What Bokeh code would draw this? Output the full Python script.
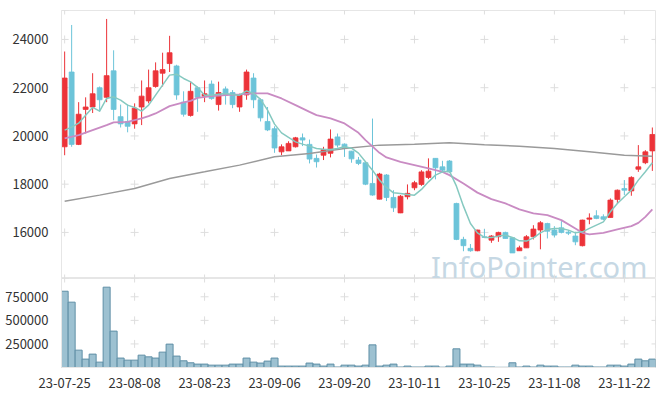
from bokeh.plotting import figure
from bokeh.layouts import column
from bokeh.models import FixedTicker, Range1d, ColumnDataSource, BasicTickFormatter, Label
from bokeh.embed import file_html
from bokeh.resources import INLINE

dates = [
    "23-07-25", "23-07-26", "23-07-27", "23-07-28", "23-07-31",
    "23-08-01", "23-08-02", "23-08-03", "23-08-04", "23-08-07", "23-08-08", "23-08-09", "23-08-10",
    "23-08-11", "23-08-14", "23-08-16", "23-08-17", "23-08-18", "23-08-21", "23-08-22", "23-08-23",
    "23-08-24", "23-08-25", "23-08-28", "23-08-29", "23-08-30", "23-08-31",
    "23-09-01", "23-09-04", "23-09-05", "23-09-06", "23-09-07", "23-09-08", "23-09-11", "23-09-12",
    "23-09-13", "23-09-14", "23-09-15", "23-09-18", "23-09-19", "23-09-20", "23-09-21", "23-09-22",
    "23-09-25", "23-09-26", "23-09-27",
    "23-10-04", "23-10-05", "23-10-06", "23-10-10", "23-10-11", "23-10-12", "23-10-13", "23-10-16",
    "23-10-17", "23-10-18", "23-10-19", "23-10-20", "23-10-23", "23-10-24", "23-10-25", "23-10-26",
    "23-10-27", "23-10-30", "23-10-31",
    "23-11-01", "23-11-02", "23-11-03", "23-11-06", "23-11-07", "23-11-08", "23-11-09", "23-11-10",
    "23-11-13", "23-11-14", "23-11-15", "23-11-16", "23-11-17", "23-11-20", "23-11-21", "23-11-22",
    "23-11-23", "23-11-24", "23-11-27", "23-11-28",
]

opens = [19550, 22650, 19650, 21100, 21200, 22000, 21600, 22700, 20800, 20600,
         20500, 21200, 21450, 22050, 22600, 23000, 22900, 21400, 20850, 22000,
         21650, 22150, 21300, 21950, 21800, 21200, 21700, 22400, 21500, 20600,
         20300, 19340, 19380, 19550, 19920, 19650, 19070, 19200, 19280, 19960,
         19660, 19370, 19000, 18890, 18030, 17380, 18380, 17450, 16810, 17480,
         17850, 17990, 18280, 19070, 18720, 18960, 17200, 15710, 15340, 15240,
         15820, 15680, 15820, 16000, 15780, 15240, 15360, 15820, 16100, 16370,
         16100, 16190, 16010, 15850, 15450, 16550, 16690, 16650, 16620, 17370,
         17820, 17720, 18620, 18890, 19380]
highs = [23500, 24600, 21400, 21600, 22600, 22050, 24850, 23550, 21300, 21300,
         21350, 22300, 22750, 23050, 23450, 24150, 22950, 21850, 22250, 22050,
         22300, 22300, 22250, 22050, 21900, 21750, 22750, 22600, 21550, 21200,
         20400, 19650, 19780, 19960, 20100, 19850, 19230, 19550, 20270, 20100,
         19690, 19380, 19130, 18950, 20720, 18470, 18420, 17750, 17550, 17990,
         18130, 18580, 19070, 19070, 18970, 19000, 17230, 15820, 15520, 16110,
         16140, 15890, 16030, 16030, 15780, 15450, 15890, 16300, 16470, 16400,
         16260, 16470, 16100, 16030, 16530, 16790, 16920, 16750, 17410, 17780,
         18170, 18330, 19620, 19410, 20350]
lows = [19200, 19550, 19620, 20100, 20950, 21000, 21400, 20650, 20350, 20150,
        20300, 20450, 21350, 22000, 22050, 22650, 21500, 20800, 20800, 21000,
        21400, 21500, 21050, 21300, 21150, 21000, 21500, 21150, 20600, 20200,
        19300, 19200, 19380, 19520, 19580, 18860, 18690, 19000, 19110, 19520,
        19130, 18890, 18790, 17960, 17520, 17370, 17300, 16850, 16800, 17370,
        17750, 17930, 18210, 18200, 18470, 18470, 15680, 15220, 15200, 15220,
        15790, 15570, 15610, 15750, 15150, 15240, 15360, 15710, 15300, 15750,
        15790, 15960, 15890, 15470, 15420, 16340, 16550, 16510, 16620, 17200,
        17550, 17520, 18510, 18830, 18550]
closes = [22400, 19650, 20900, 21200, 21750, 21500, 22500, 21100, 20500, 20400,
          21150, 21650, 22000, 22700, 22750, 23450, 21700, 20900, 21850, 21600,
          21750, 21550, 21800, 21700, 21300, 21700, 22650, 21500, 20750, 20250,
          19500, 19550, 19690, 19920, 19830, 19040, 18930, 19440, 19870, 19620,
          19510, 19050, 18860, 18000, 17550, 18420, 17450, 17020, 17500, 17620,
          18060, 18510, 18540, 18680, 18580, 18510, 15710, 15450, 15240, 16100,
          15790, 15850, 16000, 15750, 15150, 15360, 15820, 16140, 16400, 16050,
          15890, 16000, 15970, 15610, 16510, 16600, 16580, 16550, 17340, 17750,
          17750, 18280, 18720, 19340, 20060]
volumes = [809000, 693000, 184000, 89000, 142000, 57000, 852000, 386000, 100000, 78000,
           78000, 131000, 113000, 100000, 163000, 248000, 121000, 71000, 50000, 36000,
           36000, 25000, 25000, 25000, 36000, 36000, 100000, 57000, 47000, 68000,
           100000, 15000, 15000, 15000, 15000, 47000, 36000, 15000, 36000, 5000,
           25000, 25000, 15000, 25000, 240000, 15000, 25000, 36000, 5000, 15000,
           5000, 5000, 15000, 15000, 3000, 15000, 198000, 36000, 36000, 25000,
           5000, 5000, 2000, 2000, 50000, 5000, 15000, 5000, 25000, 15000,
           15000, 5000, 5000, 25000, 15000, 15000, 5000, 5000, 25000, 25000,
           15000, 36000, 89000, 71000, 89000]

ma5 = [20240, 20364, 20530, 20862, 21181, 21028, 21554, 21621, 21484, 21277,
       21181, 21028, 21277, 21691, 22106, 22521, 22562, 22383, 22242, 22010,
       21691, 21691, 21733, 21762, 21720, 21691, 21869, 21762, 21513, 21069,
       20489, 20128, 19938, 19755, 19660, 19577, 19482, 19453, 19440, 19482,
       19548, 19494, 19287, 18926, 18582, 18168, 17865, 17641, 17617, 17575,
       17546, 17782, 18097, 18375, 18512, 18541, 17919, 17090, 16373, 15983,
       15793, 15793, 15847, 15888, 15793, 15652, 15640, 15776, 15983, 16124,
       16166, 16166, 16095, 15983, 16025, 16166, 16303, 16439, 16854, 17202,
       17476, 17753, 18168, 18512, 18885]
ma20_idx = [0, 2, 4, 6, 7, 9, 11, 12, 13, 15, 17, 18, 19, 21, 23, 25, 27, 29, 31, 33,
            35, 36, 38, 40, 42, 43, 45, 46, 48, 50, 52, 54, 55, 57, 59, 61, 63, 65, 67, 69,
            71, 73, 74, 75, 77, 79, 81, 82, 83, 84]
ma20 = [19896, 20033, 20240, 20448, 20560, 20584, 20725, 20821, 20933, 21235,
        21389, 21455, 21579, 21650, 21691, 21720, 21762, 21762, 21554, 21277,
        20999, 20862, 20725, 20518, 20128, 19826, 19300, 19109, 18926, 18790,
        18653, 18512, 18375, 18031, 17650, 17380, 17202, 16953, 16788, 16717,
        16510, 16166, 15983, 15917, 15983, 16124, 16261, 16398, 16647, 16953]
ma120_idx = [0, 5, 10, 15, 20, 25, 30, 35, 40, 45, 50, 55, 60, 65, 70, 75, 80, 84]
ma120 = [17297, 17546, 17824, 18238, 18512, 18790, 19134, 19275, 19482, 19619,
         19660, 19714, 19639, 19577, 19482, 19341, 19204, 19163]

price_ticks = [16000, 18000, 20000, 22000, 24000]
volume_ticks = [250000, 500000, 750000]
x_ticks = [0, 10, 20, 30, 40, 50, 60, 70, 80]

UP = "#ec3339"
DOWN = "#6cc4d9"
FONT = "Noto Sans CJK KR"
GRIDC = "#dedede"

n = len(dates)
idx = list(range(n))
colors = [UP if c >= o else DOWN for o, c in zip(opens, closes)]
src = ColumnDataSource(dict(
    x=idx, top=[max(o, c) for o, c in zip(opens, closes)],
    bottom=[min(o, c) for o, c in zip(opens, closes)],
    high=highs, low=lows, color=colors, vol=volumes,
))

x_range = Range1d(-0.45, n - 1 + 0.45)
p_lo, p_hi = 14090, 25200
v_hi = 944000

p = figure(width=656, height=278, x_range=x_range, y_range=Range1d(p_lo, p_hi),
           output_backend="svg", toolbar_location=None, x_axis_location=None,
           min_border_left=61, min_border_right=1, min_border_top=10, min_border_bottom=0)
p.outline_line_color = "#e6e6e6"
p.grid.grid_line_color = None
p.yaxis.ticker = FixedTicker(ticks=price_ticks)
p.yaxis.axis_line_color = "#e6e6e6"
p.yaxis.major_tick_line_color = None
p.yaxis.minor_tick_line_color = None
p.yaxis.major_label_standoff = 7
p.yaxis.major_label_text_font = FONT
p.yaxis.major_label_text_font_size = "13px"
p.yaxis.major_label_text_color = "#333333"

# grid crosses
gx, gy = [], []
for t in x_ticks:
    for yv in price_ticks + [p_lo, p_hi]:
        gx.append(t); gy.append(yv)
for yv in price_ticks:
    gx.append(n - 1 + 0.45); gy.append(yv)
p.scatter(gx, gy, marker="cross", size=8, line_color=GRIDC, line_width=1)

# watermark (drawn beneath the candles)
p.add_layout(Label(x=52.36, y=14600, text="InfoPointer.com", text_font="Noto Sans",
                   text_font_size="29px", text_color="#c6d8e4", text_baseline="alphabetic",
                   level="underlay"))

p.segment(x0="x", y0="high", x1="x", y1="low", color="color", line_width=1, source=src)
p.vbar(x="x", width=0.7, top="top", bottom="bottom", fill_color="color",
       line_color="color", line_width=0.8, source=src)

p.line(ma120_idx, ma120, line_color="#9a9a9a", line_width=1.5)
p.line(ma20_idx, ma20, line_color="#c98bc3", line_width=1.8)
p.line(idx, ma5, line_color="#86c9c0", line_width=1.5)

v = figure(width=656, height=113, x_range=x_range, y_range=Range1d(0, v_hi),
           output_backend="svg", toolbar_location=None,
           min_border_left=61, min_border_right=1, min_border_top=0, min_border_bottom=24)
v.outline_line_color = "#e6e6e6"
v.grid.grid_line_color = None
v.yaxis.ticker = FixedTicker(ticks=volume_ticks)
v.yaxis.formatter = BasicTickFormatter(use_scientific=False)
v.xaxis.ticker = FixedTicker(ticks=x_ticks)
v.xaxis.major_label_overrides = {t: dates[t] for t in x_ticks}
for ax in (v.xaxis, v.yaxis):
    ax.axis_line_color = "#e6e6e6"
    ax.major_tick_line_color = None
    ax.minor_tick_line_color = None
    ax.major_label_text_font = FONT
    ax.major_label_text_font_size = "13px"
    ax.major_label_text_color = "#333333"
v.yaxis.major_label_standoff = 7
v.xaxis.major_label_standoff = 4

vx, vy = [], []
for t in x_ticks:
    for yv in volume_ticks + [v_hi]:
        vx.append(t); vy.append(yv)
for yv in volume_ticks:
    vx.append(n - 1 + 0.45); vy.append(yv)
v.scatter(vx, vy, marker="cross", size=8, line_color=GRIDC, line_width=1)

v.vbar(x="x", width=1.0, top="vol", bottom=0, fill_color="#9dc1d1",
       line_color="#5f8fa6", line_width=1, source=src)

layout = column(p, v, spacing=0)
open("out.html", "w").write(file_html(layout, INLINE))
